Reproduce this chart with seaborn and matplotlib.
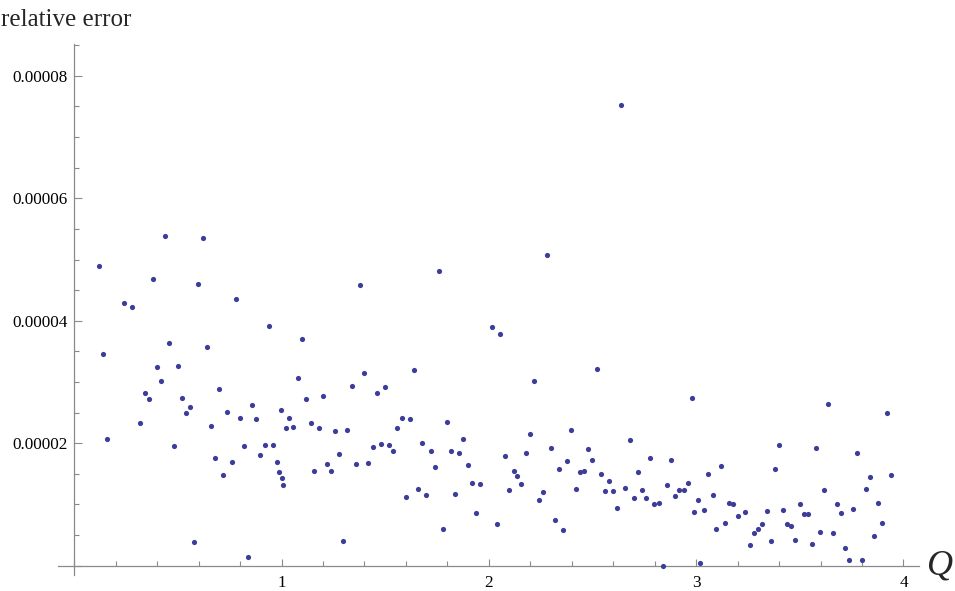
import numpy as np
import pandas as pd
import matplotlib
matplotlib.use("Agg")
import matplotlib.pyplot as plt
from matplotlib.ticker import FixedLocator, FixedFormatter, MultipleLocator
import seaborn as sns

# Q values
q = [0.119, 0.138, 0.159, 0.240, 0.280, 0.318, 0.340, 0.359, 0.380, 0.399,
     0.418, 0.439, 0.458, 0.480, 0.499, 0.520, 0.539, 0.560, 0.579, 0.599,
     0.620, 0.639, 0.660, 0.679, 0.699, 0.719, 0.739, 0.760, 0.779, 0.800,
     0.819, 0.840, 0.859, 0.879, 0.898, 0.919, 0.939, 0.959, 0.979, 0.988,
     0.998, 1.000, 1.009, 1.019, 1.038, 1.057, 1.080, 1.100, 1.119, 1.140,
     1.157, 1.180, 1.198, 1.219, 1.240, 1.259, 1.278, 1.298, 1.318, 1.340,
     1.359, 1.378, 1.399, 1.418, 1.439, 1.458, 1.478, 1.499, 1.518, 1.539,
     1.558, 1.579, 1.599, 1.620, 1.639, 1.658, 1.679, 1.699, 1.719, 1.739,
     1.760, 1.779, 1.799, 1.819, 1.839, 1.858, 1.877, 1.898, 1.919, 1.939,
     1.959, 2.017, 2.038, 2.056, 2.079, 2.098, 2.119, 2.138, 2.157, 2.178,
     2.200, 2.219, 2.240, 2.259, 2.280, 2.299, 2.318, 2.338, 2.359, 2.378,
     2.398, 2.418, 2.438, 2.458, 2.478, 2.499, 2.520, 2.539, 2.558, 2.578,
     2.599, 2.618, 2.636, 2.658, 2.679, 2.699, 2.718, 2.739, 2.758, 2.779,
     2.799, 2.819, 2.839, 2.858, 2.879, 2.898, 2.917, 2.939, 2.959, 2.979,
     2.988, 3.008, 3.019, 3.038, 3.058, 3.079, 3.098, 3.119, 3.138, 3.159,
     3.178, 3.200, 3.238, 3.259, 3.278, 3.299, 3.318, 3.340, 3.359, 3.378,
     3.398, 3.418, 3.439, 3.458, 3.478, 3.499, 3.518, 3.539, 3.558, 3.578,
     3.598, 3.618, 3.637, 3.658, 3.678, 3.699, 3.718, 3.739, 3.758, 3.777,
     3.799, 3.818, 3.839, 3.858, 3.879, 3.898, 3.919, 3.939]

# relative error, in units of 1e-5
rel_err_e5 = [4.894, 3.451, 2.062, 4.296, 4.224, 2.324, 2.814, 2.721, 4.681, 3.239,
              3.021, 5.384, 3.636, 1.959, 3.255, 2.732, 2.487, 2.596, 0.391, 4.600,
              5.358, 3.570, 2.275, 1.752, 2.891, 1.479, 2.515, 1.686, 4.361, 2.417,
              1.948, 0.150, 2.618, 2.389, 1.801, 1.975, 3.908, 1.975, 1.686, 1.528,
              2.541, 1.425, 1.310, 2.253, 2.417, 2.263, 3.059, 3.696, 2.727, 2.328,
              1.539, 2.242, 2.776, 1.658, 1.544, 2.198, 1.817, 0.400, 2.214, 2.928,
              1.658, 4.590, 3.152, 1.675, 1.943, 2.825, 1.985, 2.917, 1.964, 1.866,
              2.253, 2.410, 1.126, 2.389, 3.201, 1.250, 1.997, 1.147, 1.866, 1.605,
              4.819, 0.592, 2.351, 1.871, 1.163, 1.838, 2.062, 1.642, 1.343, 0.858,
              1.327, 3.897, 0.685, 3.778, 1.784, 1.240, 1.551, 1.458, 1.338, 1.845,
              2.144, 3.015, 1.077, 1.208, 5.069, 1.920, 0.743, 1.572, 0.575, 1.703,
              2.209, 1.257, 1.528, 1.539, 1.899, 1.730, 3.217, 1.502, 1.224, 1.387,
              1.224, 0.940, 7.520, 1.266, 2.057, 1.098, 1.534, 1.229, 1.098, 1.752,
              1.005, 1.016, 0.002, 1.310, 1.724, 1.136, 1.229, 1.229, 1.348, 2.732,
              0.869, 1.077, 0.041, 0.907, 1.490, 1.158, 0.603, 1.626, 0.701, 1.028,
              1.011, 0.815, 0.874, 0.346, 0.526, 0.603, 0.673, 0.886, 0.400, 1.583,
              1.969, 0.913, 0.673, 0.645, 0.423, 1.000, 0.848, 0.848, 0.351, 1.920,
              0.554, 1.234, 2.645, 0.542, 1.005, 0.858, 0.281, 0.090, 0.930, 1.845,
              0.101, 1.257, 1.453, 0.477, 1.028, 0.690, 2.487, 1.479]

x_major = [0, 1, 2, 3, 4]
x_major_labels = ["", "1", "2", "3", "4"]
y_major = [0, 2e-5, 4e-5, 6e-5, 8e-5]
y_major_labels = ["", "0.00002", "0.00004", "0.00006", "0.00008"]

df = pd.DataFrame({"Q": q, "err": np.array(rel_err_e5) * 1e-5})

sns.set_style("white")
serif = ["Liberation Serif", "DejaVu Serif"]
plt.rcParams["font.family"] = serif

W, H = 955, 591
fig = plt.figure(figsize=(W / 100, H / 100), dpi=100)
left_px, right_px, top_px, bottom_px = 57.7, 919, 44, 575
ax = fig.add_axes([left_px / W, 1 - bottom_px / H,
                   (right_px - left_px) / W, (bottom_px - top_px) / H])

sns.scatterplot(data=df, x="Q", y="err", ax=ax, color="#3d3d99",
                s=14, linewidth=0, legend=False, zorder=3)

ax.set_xlim(-0.08, 4.075)
ax.set_ylim(-0.152e-5, 8.52e-5)

axis_col = "#8a8a8a"
for side in ["top", "right"]:
    ax.spines[side].set_visible(False)
ax.spines["left"].set_position(("data", 0))
ax.spines["bottom"].set_position(("data", 0))
for side in ["left", "bottom"]:
    ax.spines[side].set_color(axis_col)
    ax.spines[side].set_linewidth(0.9)

ax.xaxis.set_major_locator(FixedLocator(x_major))
ax.xaxis.set_major_formatter(FixedFormatter(x_major_labels))
ax.xaxis.set_minor_locator(MultipleLocator(0.2))
ax.yaxis.set_major_locator(FixedLocator(y_major))
ax.yaxis.set_major_formatter(FixedFormatter(y_major_labels))
ax.yaxis.set_minor_locator(MultipleLocator(0.5e-5))

ax.tick_params(axis="both", which="both", bottom=True, left=True,
               top=False, right=False)
ax.tick_params(axis="both", which="major", direction="in", length=5.4,
               width=0.8, color=axis_col, labelsize=12.3, labelcolor="black")
ax.tick_params(axis="both", which="minor", direction="in", length=3.4,
               width=0.8, color=axis_col)
ax.tick_params(axis="x", which="major", pad=7)
ax.tick_params(axis="y", which="major", pad=5)
for lab in ax.get_xticklabels() + ax.get_yticklabels():
    lab.set_family(serif)

ax.set_xlabel("")
ax.set_ylabel("")
ax.grid(False)

fig.text(1 / W, 1 - 26 / H, "relative error", fontsize=18, family=serif,
         ha="left", va="baseline")
fig.text(927 / W, 1 - 566 / H, "Q", fontsize=26, family=serif, style="italic",
         ha="left", va="center")

fig.savefig("out.png", dpi=100)
